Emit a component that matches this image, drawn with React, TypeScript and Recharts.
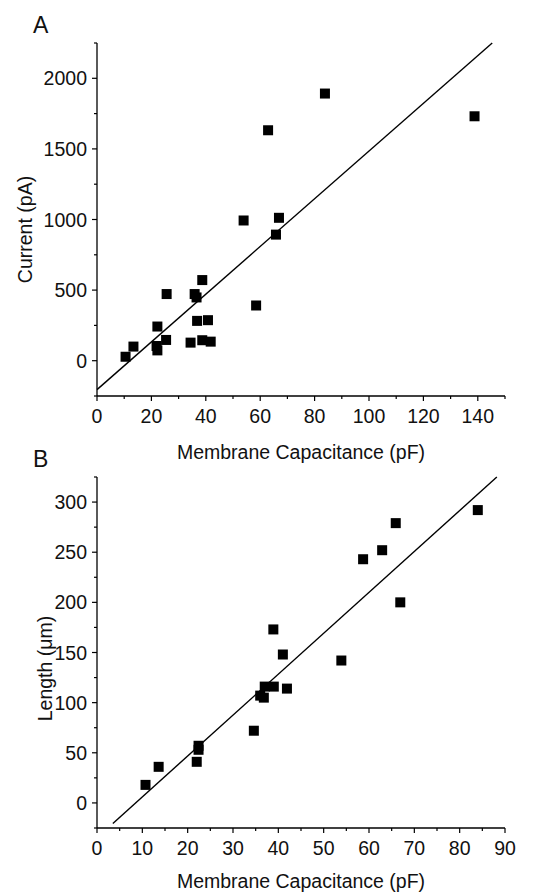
import React from "react"
import {
  ScatterChart,
  Scatter,
  XAxis,
  YAxis,
  Label,
} from "recharts"

// Panel A: current vs membrane capacitance
const capA = [10.5, 13.4, 22.2, 21.9, 22.2, 25.6, 25.4, 34.4, 35.9, 36.6, 36.8, 38.7, 38.7, 40.8, 41.8, 53.9, 58.5, 65.8, 66.9, 62.9, 83.8, 138.8]
const currentA = [28, 100, 242, 104, 73, 472, 147, 128, 472, 448, 282, 571, 145, 287, 135, 993, 391, 893, 1012, 1632, 1892, 1731]
const fitAx = [0, 145.3]
const fitAy = [-205, 2250]

// Panel B: length vs membrane capacitance
const capB = [10.7, 13.6, 22.0, 22.4, 22.4, 34.6, 36.0, 36.8, 37.0, 39.0, 41.9, 38.9, 41.0, 53.9, 58.7, 62.9, 65.9, 66.9, 84.0]
const lengthB = [18, 36, 41, 53, 57, 72, 107, 105, 116, 116, 114, 173, 148, 142, 243, 252, 279, 200, 292]
const fitBx = [3.5, 88.2]
const fitBy = [-20.5, 325]

// ticks
const xMajorA = [0, 20, 40, 60, 80, 100, 120, 140]
const xMinorA = [10, 30, 50, 70, 90, 110, 130, 150]
const yMajorA = [0, 500, 1000, 1500, 2000]
const yMinorA = [-250, 250, 750, 1250, 1750, 2250]
const xMajorB = [0, 10, 20, 30, 40, 50, 60, 70, 80, 90]
const xMinorB = [5, 15, 25, 35, 45, 55, 65, 75, 85]
const yMajorB = [0, 50, 100, 150, 200, 250, 300]
const yMinorB = [-25, 25, 75, 125, 175, 225, 275, 325]

const FONT = "Arial, 'Liberation Sans', Helvetica, sans-serif"
const INK = "#111"

const toPoints = (xs: number[], ys: number[]) => xs.map((x, i) => ({ x, y: ys[i] }))

const Square = (p: any) => (
  <rect x={p.cx - 5} y={p.cy - 5} width={10} height={10} fill="#000" />
)
const NoDot = () => <g />

function XTick({ x, y, payload, majors }: any) {
  const major = majors.includes(payload.value)
  return (
    <g>
      <line x1={x} x2={x} y1={y} y2={y + (major ? 5 : 3)} stroke="#000" strokeWidth={1.2} />
      {major && (
        <text x={x} y={y + 27} textAnchor="middle" fontSize={19.5} fontFamily={FONT} fill={INK}>
          {payload.value}
        </text>
      )}
    </g>
  )
}

function YTick({ x, y, payload, majors }: any) {
  const major = majors.includes(payload.value)
  return (
    <g>
      <line x1={x} x2={x - (major ? 5 : 3)} y1={y} y2={y} stroke="#000" strokeWidth={1.2} />
      {major && (
        <text x={x - 10} y={y} dy="0.36em" textAnchor="end" fontSize={19.5} fontFamily={FONT} fill={INK}>
          {payload.value}
        </text>
      )}
    </g>
  )
}

function XTitle({ viewBox, dy }: any) {
  return (
    <text
      x={viewBox.x + viewBox.width / 2}
      y={viewBox.y + dy}
      textAnchor="middle"
      fontSize={19.5}
      fontFamily={FONT}
      fill={INK}
    >
      Membrane Capacitance (pF)
    </text>
  )
}

function YTitle({ viewBox, value, bx, shift }: any) {
  const cy = viewBox.y + viewBox.height / 2 + shift
  return (
    <text
      x={bx}
      y={cy}
      transform={`rotate(-90 ${bx} ${cy})`}
      textAnchor="middle"
      fontSize={19.5}
      fontFamily={FONT}
      fill={INK}
    >
      {value}
    </text>
  )
}

const axisLine = { stroke: "#000", strokeWidth: 1.3 }

function Panel({
  height, margin, xDomain, yDomain, xMajor, xMinor, yMajor, yMinor,
  points, fit, yTitle, titleX, titleShift, xTitleDy,
}: any) {
  return (
    <ScatterChart width={553} height={height} margin={margin}>
      <XAxis
        type="number"
        dataKey="x"
        domain={xDomain}
        ticks={[...xMajor, ...xMinor].sort((a, b) => a - b)}
        interval={0}
        tickSize={0}
        tickMargin={0}
        tickLine={false}
        axisLine={axisLine}
        height={60}
        tick={(p: any) => <XTick {...p} majors={xMajor} />}
      >
        <Label content={(p: any) => <XTitle {...p} dy={xTitleDy} />} />
      </XAxis>
      <YAxis
        type="number"
        dataKey="y"
        domain={yDomain}
        ticks={[...yMajor, ...yMinor].sort((a, b) => a - b)}
        interval={0}
        tickSize={0}
        tickMargin={0}
        tickLine={false}
        axisLine={axisLine}
        width={60}
        tick={(p: any) => <YTick {...p} majors={yMajor} />}
      >
        <Label
          content={(p: any) => <YTitle {...p} value={yTitle} bx={titleX} shift={titleShift} />}
        />
      </YAxis>
      <Scatter
        data={fit}
        line={{ stroke: "#000", strokeWidth: 1.4 }}
        shape={NoDot}
        isAnimationActive={false}
      />
      <Scatter data={points} shape={Square} isAnimationActive={false} />
    </ScatterChart>
  )
}

export default function App() {
  return (
    <div
      style={{
        position: "absolute",
        left: 0,
        top: 0,
        width: 553,
        height: 893,
        background: "#fff",
        fontFamily: FONT,
        color: INK,
      }}
    >
      <div style={{ position: "absolute", left: 0, top: 0 }}>
        <Panel
          height={470}
          margin={{ top: 43, right: 48, left: 37, bottom: 14 }}
          xDomain={[0, 150]}
          yDomain={[-250, 2250]}
          xMajor={xMajorA}
          xMinor={xMinorA}
          yMajor={yMajorA}
          yMinor={yMinorA}
          points={toPoints(capA, currentA)}
          fit={toPoints(fitAx, fitAy)}
          yTitle="Current (pA)"
          titleX={31.5}
          titleShift={10}
          xTitleDy={63}
        />
      </div>
      <div style={{ position: "absolute", left: 0, top: 440 }}>
        <Panel
          height={453}
          margin={{ top: 37, right: 48, left: 37, bottom: 5 }}
          xDomain={[0, 90]}
          yDomain={[-25, 325]}
          xMajor={xMajorB}
          xMinor={xMinorB}
          yMajor={yMajorB}
          yMinor={yMinorB}
          points={toPoints(capB, lengthB)}
          fit={toPoints(fitBx, fitBy)}
          yTitle="Length (μm)"
          titleX={52}
          titleShift={16}
          xTitleDy={60}
        />
      </div>
      <div style={{ position: "absolute", left: 33, top: 14, fontSize: 23, lineHeight: "23px" }}>A</div>
      <div style={{ position: "absolute", left: 33, top: 448, fontSize: 23, lineHeight: "23px" }}>B</div>
    </div>
  )
}
